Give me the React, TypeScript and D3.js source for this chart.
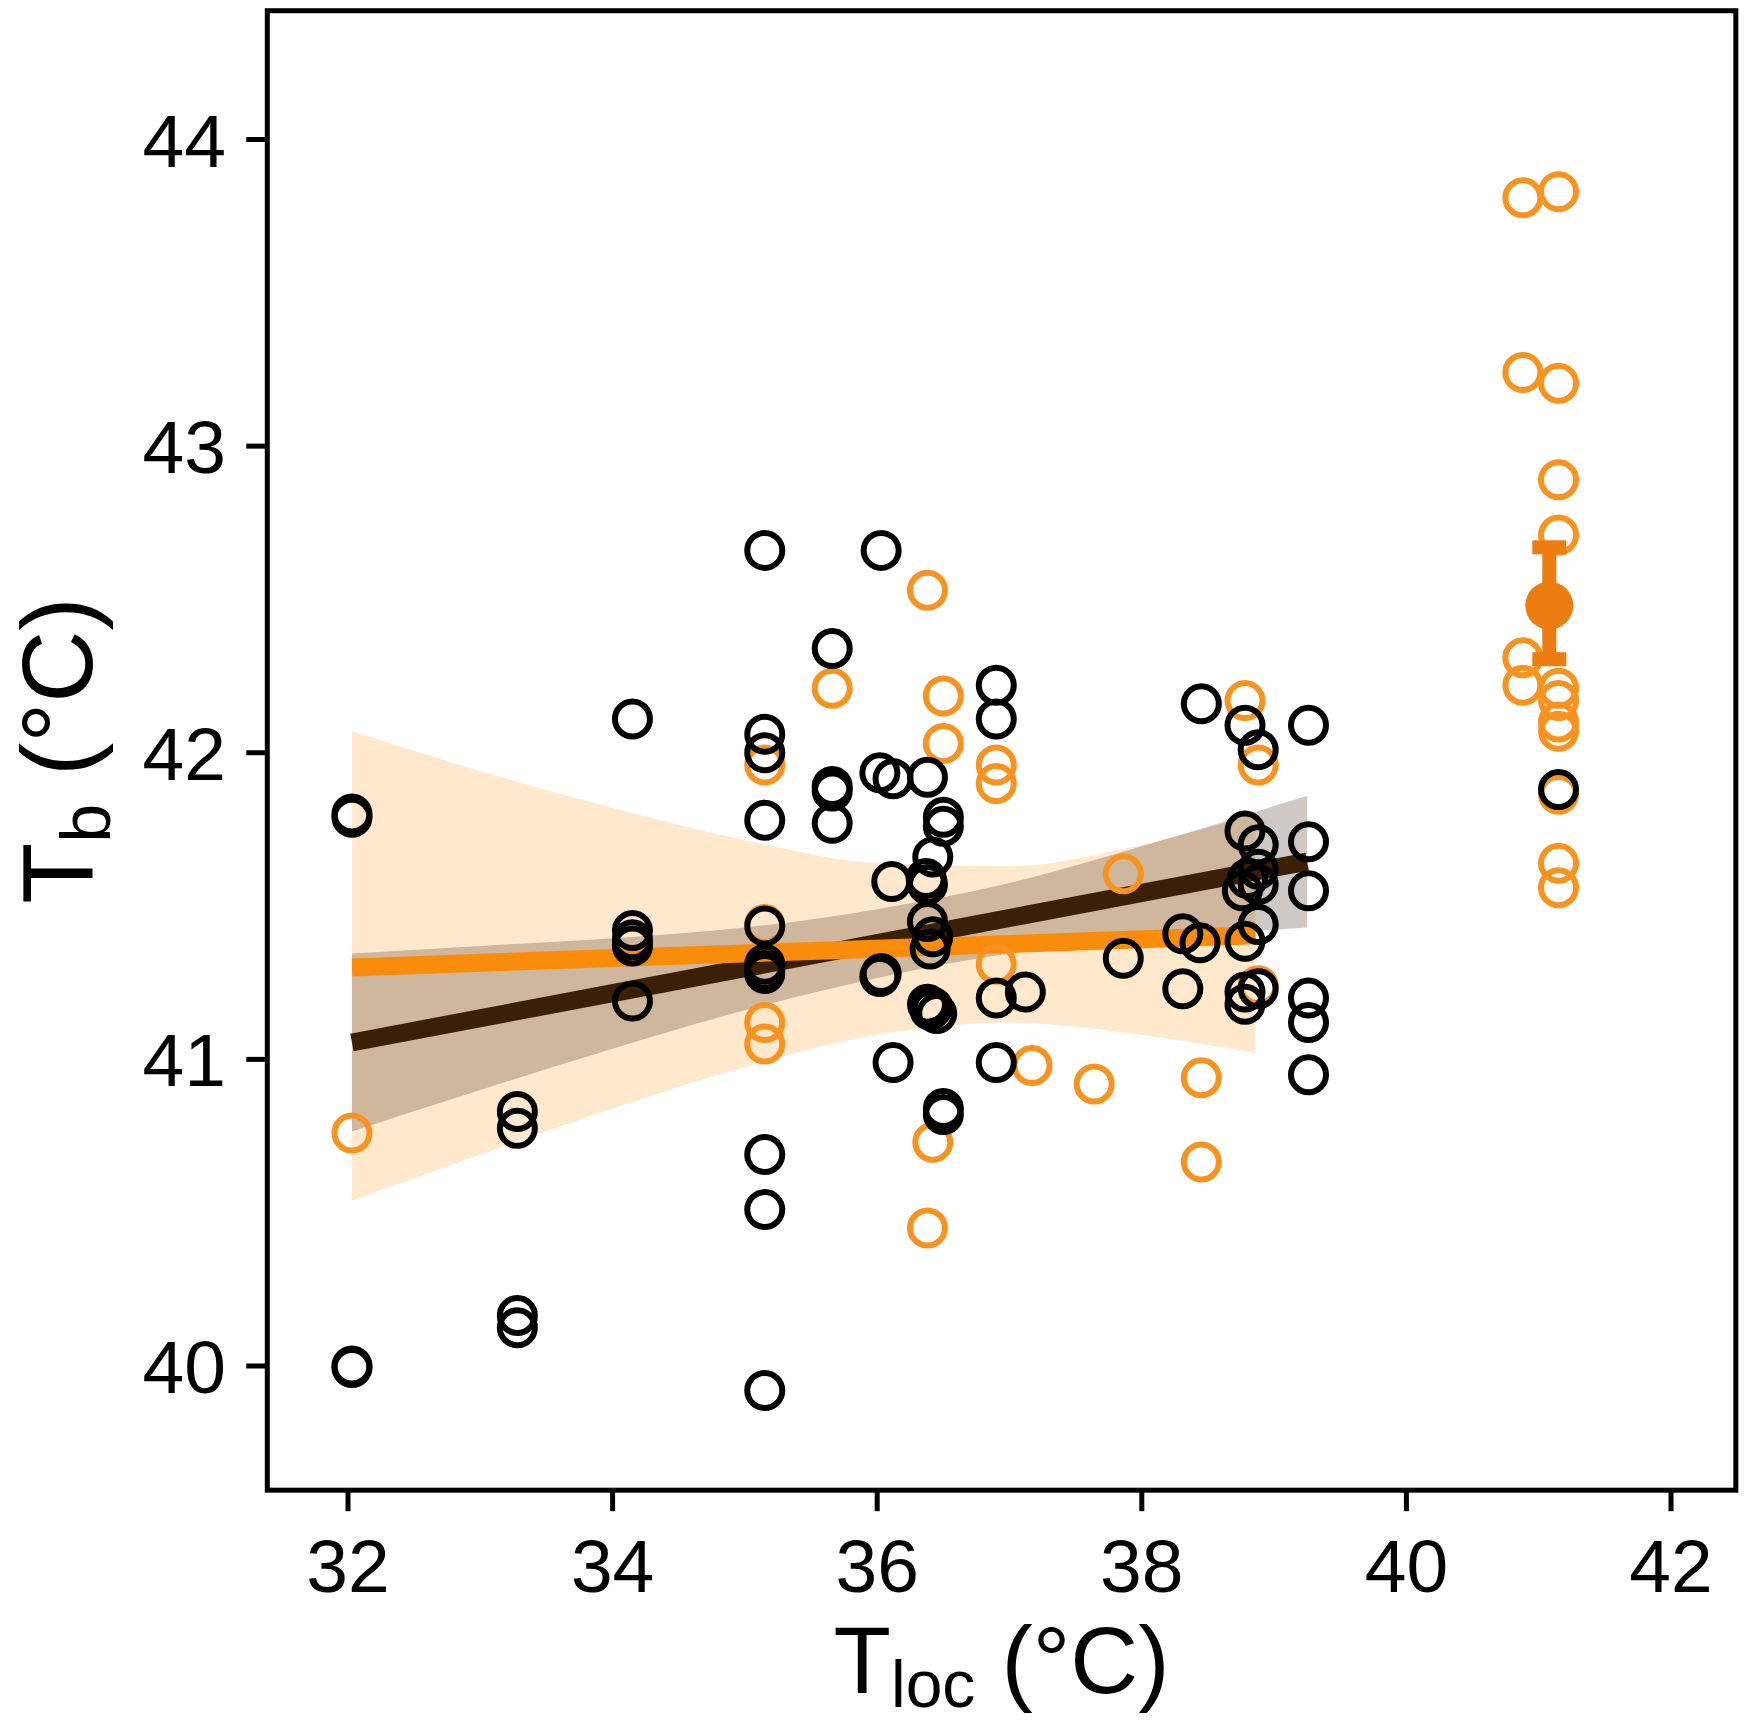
import React from 'react';
import * as d3 from 'd3';

const W = 1750;
const H = 1726;

const xTicks = [32, 34, 36, 38, 40, 42];
const yTicks = [40, 41, 42, 43, 44];

// [Tloc, Tb]
const blackPoints: [number, number][] = [
  [32.03, 41.8], [32.03, 41.79], [32.03, 40.0], [32.03, 39.995],
  [33.28, 40.83], [33.28, 40.775], [33.28, 40.165], [33.28, 40.125],
  [34.15, 42.11], [34.15, 41.42], [34.15, 41.39], [34.15, 41.37], [34.15, 41.19],
  [35.15, 42.66], [35.15, 42.06], [35.15, 42.0], [35.15, 41.78], [35.15, 41.435],
  [35.15, 41.31], [35.15, 41.29], [35.15, 41.28], [35.15, 40.69], [35.15, 40.51], [35.15, 39.92],
  [35.66, 42.34], [35.66, 41.89], [35.66, 41.875], [35.66, 41.77],
  [36.03, 42.66], [36.02, 41.935], [36.03, 41.28], [36.02, 41.27],
  [36.12, 41.915], [36.11, 41.58], [36.12, 40.99],
  [36.38, 41.92], [36.37, 41.59], [36.38, 41.57], [36.38, 41.45], [36.4, 41.36],
  [36.42, 41.66], [36.42, 41.4], [36.38, 41.18], [36.42, 41.17], [36.45, 41.15], [36.4, 41.16],
  [36.5, 41.79], [36.5, 41.76], [36.5, 40.84], [36.5, 40.82],
  [36.9, 42.22], [36.9, 42.11], [36.9, 41.2], [36.9, 40.99],
  [37.12, 41.22],
  [37.86, 41.33],
  [38.31, 41.41], [38.31, 41.23],
  [38.44, 41.38], [38.45, 42.16],
  [38.78, 42.09], [38.88, 42.01], [38.78, 41.745], [38.88, 41.7], [38.88, 41.62],
  [38.8, 41.59], [38.88, 41.57], [38.76, 41.55], [38.88, 41.44], [38.78, 41.385],
  [38.88, 41.23], [38.78, 41.22], [38.78, 41.18],
  [39.26, 42.09], [39.26, 41.71], [39.26, 41.55], [39.26, 41.2], [39.26, 41.12], [39.26, 40.95],
  [41.15, 41.88],
];

const orangePoints: [number, number][] = [
  [32.03, 40.76],
  [35.15, 41.96], [35.15, 41.44], [35.15, 41.12], [35.15, 41.05],
  [35.66, 42.21],
  [36.38, 42.53], [36.38, 40.45],
  [36.42, 40.73],
  [36.5, 42.185], [36.5, 42.03],
  [36.9, 41.96], [36.9, 41.9], [36.9, 41.31],
  [37.17, 40.98],
  [37.64, 40.92],
  [37.86, 41.605],
  [38.45, 40.94], [38.45, 40.665],
  [38.78, 42.17], [38.88, 41.96], [38.88, 41.24],
  [40.88, 43.81], [40.88, 43.24], [40.88, 42.31], [40.88, 42.22],
  [41.15, 43.83], [41.15, 43.205], [41.15, 42.89], [41.15, 42.71], [41.15, 42.21],
  [41.15, 42.17], [41.15, 42.1], [41.15, 42.07], [41.15, 41.865], [41.15, 41.64], [41.15, 41.56],
];

// regression lines [Tloc, Tb]
const blackLine: [number, number][] = [[32.03, 41.055], [39.25, 41.645]];
const orangeLine: [number, number][] = [[32.03, 41.3], [38.86, 41.405]];

// confidence bands [Tloc, lower, upper]
const blackBand: [number, number, number][] = [
  [32.03, 40.765, 41.345], [33, 40.9, 41.37], [34, 41.035, 41.395], [35, 41.16, 41.43],
  [36, 41.265, 41.49], [37, 41.345, 41.575], [38, 41.39, 41.695], [39.25, 41.43, 41.86],
];
const orangeBand: [number, number, number][] = [
  [32.03, 40.54, 42.07], [33, 40.69, 41.94], [34, 40.84, 41.82], [35, 40.975, 41.715],
  [36, 41.08, 41.64], [37, 41.12, 41.63], [38, 41.08, 41.7], [38.86, 41.02, 41.8],
];

// mean with error bar [Tloc, mean, lower, upper]
const groupMean: [number, number, number, number] = [41.08, 42.48, 42.305, 42.67];

const FONT = '"Liberation Sans", Arial, Helvetica, sans-serif';

export default function App() {
  const x = d3.scaleLinear().domain([32, 42]).range([348, 1671]);
  const y = d3.scaleLinear().domain([40, 44]).range([1366, 139.5]);
  const fx0 = x(31.39);
  const fx1 = x(42.49);
  const fyb = y(39.595);
  const fyt = y(44.42);

  const area = d3
    .area<[number, number, number]>()
    .x((d) => x(d[0]))
    .y0((d) => y(d[1]))
    .y1((d) => y(d[2]))
    .curve(d3.curveMonotoneX);
  const line = d3
    .line<[number, number]>()
    .x((d) => x(d[0]))
    .y((d) => y(d[1]));

  const r = 17.5;
  const sw = 6;
  const [mx, mm, ml, mu] = groupMean;

  return (
    <svg
      width={W}
      height={H}
      viewBox={`0 0 ${W} ${H}`}
      style={{ position: 'absolute', left: 0, top: 0, background: '#fff' }}
      fontFamily={FONT}
    >
      <rect x={0} y={0} width={W} height={H} fill="#fff" />
      {/* bands */}
      <path d={area(orangeBand) || ''} fill="rgb(255,140,0)" fillOpacity={0.2} />
      <path d={area(blackBand) || ''} fill="rgb(50,30,10)" fillOpacity={0.24} />
      {/* regression lines */}
      <path d={line(blackLine) || ''} stroke="#3A2007" strokeWidth={18} fill="none" />
      <path d={line(orangeLine) || ''} stroke="#FA8C0C" strokeWidth={18} fill="none" />
      {/* points */}
      {orangePoints.map((p, i) => (
        <circle key={'o' + i} cx={x(p[0])} cy={y(p[1])} r={r} fill="none" stroke="#F7931E" strokeWidth={sw} />
      ))}
      {blackPoints.map((p, i) => (
        <circle key={'b' + i} cx={x(p[0])} cy={y(p[1])} r={r} fill="none" stroke="#000" strokeWidth={sw} />
      ))}
      {/* mean + error bar */}
      <g fill="#EE7D11" stroke="none">
        <rect x={x(mx) - 7} y={y(mu)} width={14} height={y(ml) - y(mu)} />
        <rect x={x(mx) - 17} y={y(mu) - 7} width={34} height={14} />
        <rect x={x(mx) - 17} y={y(ml) - 7} width={34} height={14} />
        <circle cx={x(mx)} cy={y(mm)} r={24} />
      </g>
      {/* frame */}
      <rect x={fx0} y={fyt} width={fx1 - fx0} height={fyb - fyt} fill="none" stroke="#000" strokeWidth={5} />
      {/* y ticks */}
      {yTicks.map((t) => (
        <g key={'y' + t}>
          <line x1={fx0 - 21} x2={fx0} y1={y(t)} y2={y(t)} stroke="#000" strokeWidth={5} />
          <text x={226} y={y(t) + 27} fontSize={75} textAnchor="end" fill="#000">
            {t}
          </text>
        </g>
      ))}
      {/* x ticks */}
      {xTicks.map((t) => (
        <g key={'x' + t}>
          <line x1={x(t)} x2={x(t)} y1={fyb} y2={fyb + 21} stroke="#000" strokeWidth={5} />
          <text x={x(t)} y={1592} fontSize={75} textAnchor="middle" fill="#000">
            {t}
          </text>
        </g>
      ))}
      {/* axis titles */}
      <text x={(fx0 + fx1) / 2} y={1693} fontSize={94} textAnchor="middle" fill="#000">
        T<tspan fontSize={66} dy={14}>loc</tspan>
        <tspan dy={-14}> (°C)</tspan>
      </text>
      <text
        transform={`translate(92, ${(fyt + fyb) / 2}) rotate(-90)`}
        fontSize={100}
        textAnchor="middle"
        fill="#000"
      >
        T<tspan fontSize={70} dy={18}>b</tspan>
        <tspan dy={-18}> (°C)</tspan>
      </text>
    </svg>
  );
}
